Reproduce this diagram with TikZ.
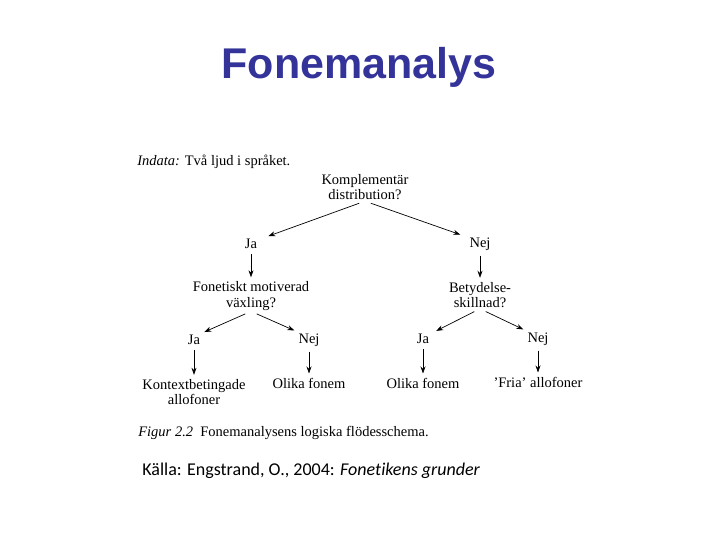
\documentclass[tikz,border=0pt]{standalone}
\usepackage{fontspec}
\setmainfont{Liberation Serif}
\newfontfamily\titlefont{Liberation Sans}
\newfontfamily\sourcefont[Ligatures=NoCommon]{Carlito}
\usepackage{tikz}
\usetikzlibrary{arrows.meta, positioning}
\definecolor{titleblue}{RGB}{51,51,153}

\begin{document}
\begin{tikzpicture}[
    x=1pt, y=-1pt, ->, >={Stealth[length=7pt, width=5pt]}, line width=0.7pt,
    every node/.style={align=center, inner sep=2pt, font=\fontsize{14.5}{15.5}\selectfont},
    shorten <=3pt, shorten >=2pt
]
\useasboundingbox (0,0) rectangle (720,540);
\node (title) [font=\titlefont\bfseries\fontsize{43}{48}\selectfont, text=titleblue] at (359,67) {Fonemanalys};
\node (indata) [anchor=west] at (135,162) {\textit{Indata:} Två ljud i språket.};
\node (komplementar) at (365,187) {Komplementär\\ distribution?};
\node (ja_kompl) at (251,244) {Ja};
\node (nej_kompl) at (480,244) {Nej};
\node (fonetiskt) [on grid, below=52pt of ja_kompl] {Fonetiskt motiverad\\ växling?};
\node (betydelse) [on grid, below=51pt of nej_kompl] {Betydelse-\\ skillnad?};
\node (ja_fonetiskt) at (194,340) {Ja};
\node (nej_fonetiskt) at (309,340) {Nej};
\node (ja_betydelse) at (423,339) {Ja};
\node (nej_betydelse) at (538,339) {Nej};
\node (kontext) [on grid, below=52pt of ja_fonetiskt] {Kontextbetingade\\ allofoner};
\node (olika_fonem_a) [on grid, below=43pt of nej_fonetiskt] {Olika fonem};
\node (olika_fonem_b) [on grid, below=44pt of ja_betydelse] {Olika fonem};
\node (fria) [on grid, below=43pt of nej_betydelse] {'Fria' allofoner};
\node (figur) [anchor=west] at (136,433) {\textit{Figur 2.2}\ \ Fonemanalysens logiska flödesschema.};
\node (kalla) [anchor=west, font=\sourcefont\fontsize{18}{20}\selectfont] at (140,471) {Källa: Engstrand, O., 2004: \textit{Fonetikens grunder}};
% question -> answers
\draw ([xshift=-3pt]komplementar.south) -- ([xshift=7pt]ja_kompl.north east);
\draw ([xshift=3pt]komplementar.south) -- ([xshift=-5pt]nej_kompl.north west);
\draw ([xshift=-3pt]fonetiskt.south) -- (ja_fonetiskt.north east);
\draw ([xshift=3pt]fonetiskt.south) -- (nej_fonetiskt.north west);
\draw ([xshift=-3pt]betydelse.south) -- ([xshift=3pt]ja_betydelse.north east);
\draw ([xshift=3pt]betydelse.south) -- (nej_betydelse.north west);
% answers -> next step
\draw (ja_kompl) -- (fonetiskt);
\draw (nej_kompl) -- (betydelse);
\draw (ja_fonetiskt) -- (kontext);
\draw (nej_fonetiskt) -- (olika_fonem_a);
\draw (ja_betydelse) -- (olika_fonem_b);
\draw (nej_betydelse) -- (fria);
\end{tikzpicture}
\end{document}
